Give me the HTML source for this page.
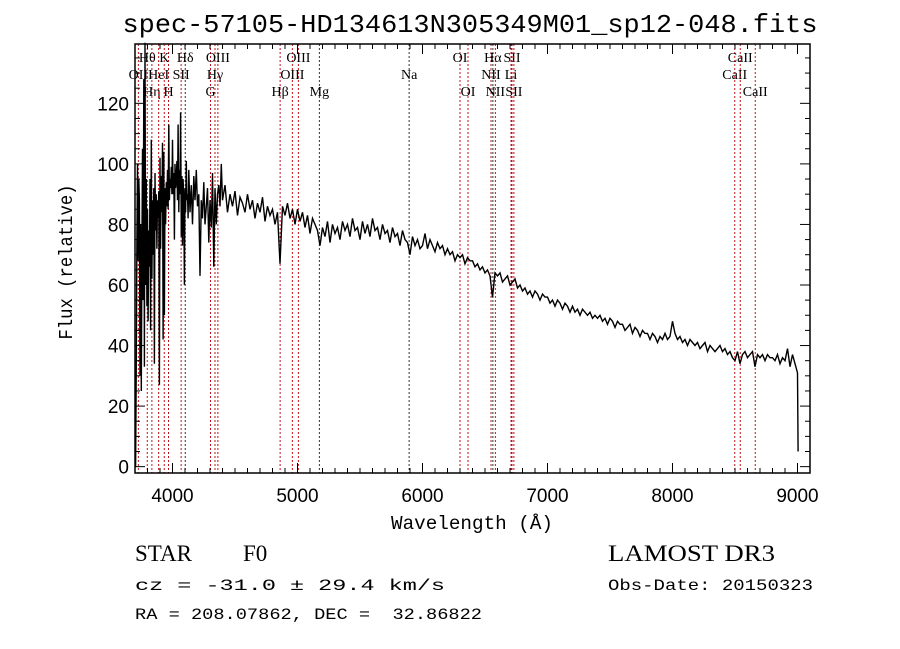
<!DOCTYPE html>
<html><head><meta charset="utf-8"><style>
html,body{margin:0;padding:0;background:#fff;}
svg{display:block;}
</style></head><body>
<svg id="chart" width="900" height="649" xmlns="http://www.w3.org/2000/svg">
<rect width="900" height="649" fill="#fff"/>
<text x="470" y="32" text-anchor="middle" font-family="Liberation Mono, monospace" font-size="26" textLength="695" lengthAdjust="spacingAndGlyphs">spec-57105-HD134613N305349M01_sp12-048.fits</text>
<g id="lines"></g>
<g id="ticks"></g>
<path id="spec" fill="none" stroke="#000" stroke-width="1.4"/>
<rect x="135" y="44" width="675" height="429" fill="none" stroke="#000" stroke-width="1.5"/>
<text x="472" y="529" text-anchor="middle" font-family="Liberation Mono, monospace" font-size="19" textLength="162" lengthAdjust="spacingAndGlyphs">Wavelength (Å)</text>
<text transform="translate(72,262) rotate(-90)" text-anchor="middle" font-family="Liberation Mono, monospace" font-size="19" textLength="155" lengthAdjust="spacingAndGlyphs">Flux (relative)</text>
<text x="135" y="561" font-family="Liberation Serif, serif" font-size="23">STAR</text>
<text x="243" y="561" font-family="Liberation Serif, serif" font-size="23">F0</text>
<text x="608" y="561" font-family="Liberation Serif, serif" font-size="23" textLength="167" lengthAdjust="spacingAndGlyphs">LAMOST DR3</text>
<text x="135" y="590" font-family="Liberation Mono, monospace" font-size="16" textLength="310" lengthAdjust="spacingAndGlyphs">cz = -31.0 ± 29.4 km/s</text>
<text x="608" y="590" font-family="Liberation Mono, monospace" font-size="16" textLength="205" lengthAdjust="spacingAndGlyphs">Obs-Date: 20150323</text>
<text x="135" y="619" font-family="Liberation Mono, monospace" font-size="16" textLength="347" lengthAdjust="spacingAndGlyphs" style="white-space:pre">RA = 208.07862, DEC =  32.86822</text>
</svg>
<script>
const blueWaves=[3700,3705,3710,3715,3720,3725,3730,3735,3740,3745,3750,3755,3760,3765,3770,3775,3780,3785,3790,3795,3800,3805,3810,3815,3820,3825,3830,3835,3840,3845,3850,3855,3860,3865,3870,3875,3880,3885,3890,3895,3900,3905,3910,3915,3920,3925,3930,3935,3940,3945,3950,3955,3960,3965,3970,3975,3980,3985,3990,3995,4000,4005,4010,4015,4020,4025,4030,4035,4040,4045,4050,4055,4060,4065,4070,4075,4080,4085,4090,4095,4100,4105,4110,4115,4120,4125,4130,4140,4150,4160,4170,4180,4190,4200,4210,4220,4230,4240,4250,4260,4270,4280,4290,4300,4310,4320,4330,4340,4350,4360,4370,4380,4390];
const blueFlux=[0,0,35,75,100,68,95,88,30,80,25,70,105,55,128,33,140,60,95,53,85,48,78,66,95,45,108,62,88,70,92,34,97,78,90,72,88,82,91,27,102,72,96,84,107,42,104,50,92,80,94,86,98,85,113,88,95,92,99,90,108,90,97,75,100,92,95,101,88,113,84,98,90,117,76,96,73,95,88,60,92,84,101,88,90,82,98,84,93,80,96,88,98,86,90,63,88,82,94,80,86,92,74,88,79,97,66,92,80,90,93,86,100];
const redStart=4400, redStep=20;
const redFlux=[88,93,84,90,86,91,83,89,87,84, 90,85,88,82,87,84,89,81,86,83, 85,80,84,67,86,83,87,82,85,80, 85,81,84,79,83,77,82,80,78,73, 79,76,81,74,80,77,79,75,81,78, 80,76,82,78,79,75,81,77,80,76, 82,78,79,75,80,77,78,74,79,76, 77,73,78,75,74,70,76,73,75,72, 73,77,72,75,73,71,74,72,73,70, 72,70,71,68,70,69,70,67,69,68, 68,66,67,65,66,64,65,63,56,64, 63,64,61,62,63,60,61,62,59,60, 58,59,57,58,56,58,57,55,57,56, 56,54,55,53,55,54,52,54,53,51, 53,51,52,50,52,51,50,51,49,50, 49,50,48,49,47,49,48,46,48,47, 47,45,46,47,44,46,45,43,45,44, 44,42,44,43,41,43,42,44,42,43, 48,44,42,43,41,42,40,42,41,40, 41,39,40,41,38,40,39,38,39,40, 38,39,37,38,36,35,38,34,37,38, 36,37,38,33,37,36,37,35,37,36, 36,35,37,34,36,35,39,33,37,34, 31];
const endWaves=[9005];
const endFlux=[5];
const xTicks=[4000,5000,6000,7000,8000,9000];
const yTicks=[0,20,40,60,80,100,120];
const lineWaves=[3727,3798,3835,3889,3934,3968,4069,4102,4304,4340,4363,4861,4959,5007,5175,5893,6300,6364,6548,6563,6583,6716,6708,6731,8498,8542,8662];
const lineLabels=[["OII",1],["Hθ",0],["Hη",2],["HeI",1],["K",0],["H",2],["SII",1],["Hδ",0],["G",2],["Hγ",1],["OIII",0],["Hβ",2],["OIII",1],["OIII",0],["Mg",2],["Na",1],["OI",0],["OI",2],["NII",1],["Hα",0],["NII",2],["SII",0],["Li",1],["SII",2],["CaII",1],["CaII",0],["CaII",2]];
const NS='http://www.w3.org/2000/svg';
const X0=135,X1=810,Y0=44,Y1=473,WMIN=3700,WMAX=9100,FMIN=-2.1,FMAX=139.6;
function xs(w){return X0+(w-WMIN)*(X1-X0)/(WMAX-WMIN);}
function ys(f){return Y1-(f-FMIN)*(Y1-Y0)/(FMAX-FMIN);}
const svg=document.getElementById('chart');
const W=[],F=[];
blueWaves.forEach((w,i)=>{W.push(w);F.push(blueFlux[i]);});
redFlux.forEach((f,i)=>{W.push(redStart+i*redStep);F.push(f);});
endWaves.forEach((w,i)=>{W.push(w);F.push(endFlux[i]);});
let d='';
for(let i=0;i<W.length;i++){d+=(i?'L':'M')+xs(W[i]).toFixed(1)+','+ys(F[i]).toFixed(1);}
document.getElementById('spec').setAttribute('d',d);
const tg=document.getElementById('ticks');
function ln(x1,y1,x2,y2,g,name,color,dash,w){const l=document.createElementNS(NS,'line');l.setAttribute('x1',x1);l.setAttribute('y1',y1);l.setAttribute('x2',x2);l.setAttribute('y2',y2);l.setAttribute('stroke',color||'#000');l.setAttribute('stroke-width',w||1);if(dash)l.setAttribute('stroke-dasharray',dash);


g.appendChild(l);return l;}
function tx(x,y,s,g,name,anchor,size,fam){const t=document.createElementNS(NS,'text');t.setAttribute('x',x);t.setAttribute('y',y);t.setAttribute('text-anchor',anchor||'middle');t.setAttribute('font-family',fam||'Liberation Sans, sans-serif');t.setAttribute('font-size',size||18);t.textContent=s;


g.appendChild(t);return t;}
for(let w=3700;w<=9100;w+=100){const x=xs(w);const major=w%1000===0;const L=major?10:5;ln(x,Y1,x,Y1-L,tg,'x-tick');ln(x,Y0,x,Y0+L,tg,'x-tick-top');}
xTicks.forEach(w=>tx(xs(w),502,String(w),tg,'x-tick-label','middle',19));
for(let f=0;f<=135;f+=5){const y=ys(f);const major=f%20===0;const L=major?10:5;ln(X0,y,X0+L,y,tg,'y-tick');ln(X1,y,X1-L,y,tg,'y-tick-right');}
yTicks.forEach(f=>tx(X0-6,ys(f)+7,String(f),tg,'y-tick-label','end',19));
const lg=document.getElementById('lines');
const rowsY=[62,79,96];
lineWaves.forEach((w,i)=>{const x=xs(w);const black=(w===4102||w===5175||w===5893||w===6563);
ln(x,Y0,x,Y1,lg,'line-marker-'+lineLabels[i][0],black?'#333':'#c0141a','2,2',1);
tx(x,rowsY[lineLabels[i][1]],lineLabels[i][0],lg,'line-label-'+lineLabels[i][0],'middle',14,'Liberation Serif, serif');});
</script>
</body></html>
